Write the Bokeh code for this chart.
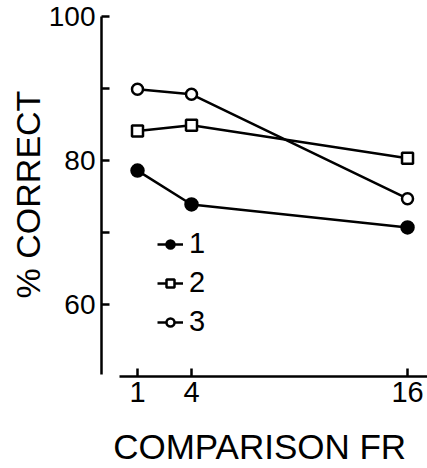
from bokeh.plotting import figure
from bokeh.models import FixedTicker, Legend, LegendItem, Range1d
from bokeh.embed import file_html
from bokeh.resources import INLINE

fr = [1, 4, 16]
s1 = [78.6, 73.9, 70.7]
s2 = [84.1, 84.9, 80.3]
s3 = [89.9, 89.2, 74.7]
labels = ["1", "2", "3"]
y_ticks = [60, 70, 80, 90, 100]
y_tick_labels = {60: "60", 70: "", 80: "80", 90: "", 100: "100"}
x_ticks = [1, 4, 16]
x_title = "COMPARISON  FR"
y_title = "% CORRECT"

FONT = "Liberation Sans"

p = figure(width=427, height=468, x_range=Range1d(-1, 17.11), y_range=Range1d(50, 100.56),
           output_backend="svg", toolbar_location=None,
           min_border_left=101, min_border_right=0, min_border_top=12, min_border_bottom=92)
p.outline_line_color = None
p.xgrid.visible = False
p.ygrid.visible = False

# axes
p.xaxis.ticker = FixedTicker(ticks=x_ticks)
p.xaxis.bounds = (0, 17.11)
p.yaxis.ticker = FixedTicker(ticks=y_ticks)
p.yaxis.major_label_overrides = y_tick_labels
p.yaxis.bounds = (50.3, 100)
for ax in (p.xaxis, p.yaxis):
    ax.axis_line_width = 2.5
    ax.axis_line_color = "black"
    ax.major_tick_line_width = 2.5
    ax.major_tick_line_color = "black"
    ax.major_tick_in = 8
    ax.major_tick_out = 0
    ax.minor_tick_line_color = None
    ax.major_label_text_font = FONT
    ax.major_label_text_color = "black"
    ax.axis_label_text_font = FONT
    ax.axis_label_text_font_style = "normal"
    ax.axis_label_text_color = "black"

p.xaxis.major_label_text_font_size = "29px"
p.yaxis.major_label_text_font_size = "28px"
p.xaxis.major_label_text_line_height = 1.0
p.xaxis.axis_label_text_line_height = 1.0
p.xaxis.axis_label_text_font_size = "35px"
p.yaxis.axis_label_text_font_size = "34px"
p.xaxis.major_label_standoff = 5
p.yaxis.major_label_standoff = 6
p.xaxis.axis_label = x_title
p.yaxis.axis_label = y_title
p.xaxis.axis_label_standoff = 22
p.yaxis.axis_label_standoff = -1

items = []
specs = [
    (s1, "circle", "black", 12),
    (s2, "square", "white", 11),
    (s3, "circle", "white", 11),
]
for (ys, marker, fill, size), lab in zip(specs, labels):
    ln = p.line(fr, ys, line_color="black", line_width=2.5)
    sc = p.scatter(fr, ys, marker=marker, size=size, fill_color=fill,
                   line_color="black", line_width=2.5)
    items.append(LegendItem(label=lab, renderers=[ln, sc]))

legend = Legend(items=items, location=(56, 38), orientation="vertical",
                glyph_width=26, glyph_height=20, label_height=20, label_width=10,
                spacing=6, padding=0, margin=0, label_standoff=6,
                label_text_font=FONT, label_text_font_size="29px",
                label_text_color="black",
                border_line_color=None, background_fill_alpha=0)
p.add_layout(legend)

open("out.html", "w").write(file_html(p, INLINE))
